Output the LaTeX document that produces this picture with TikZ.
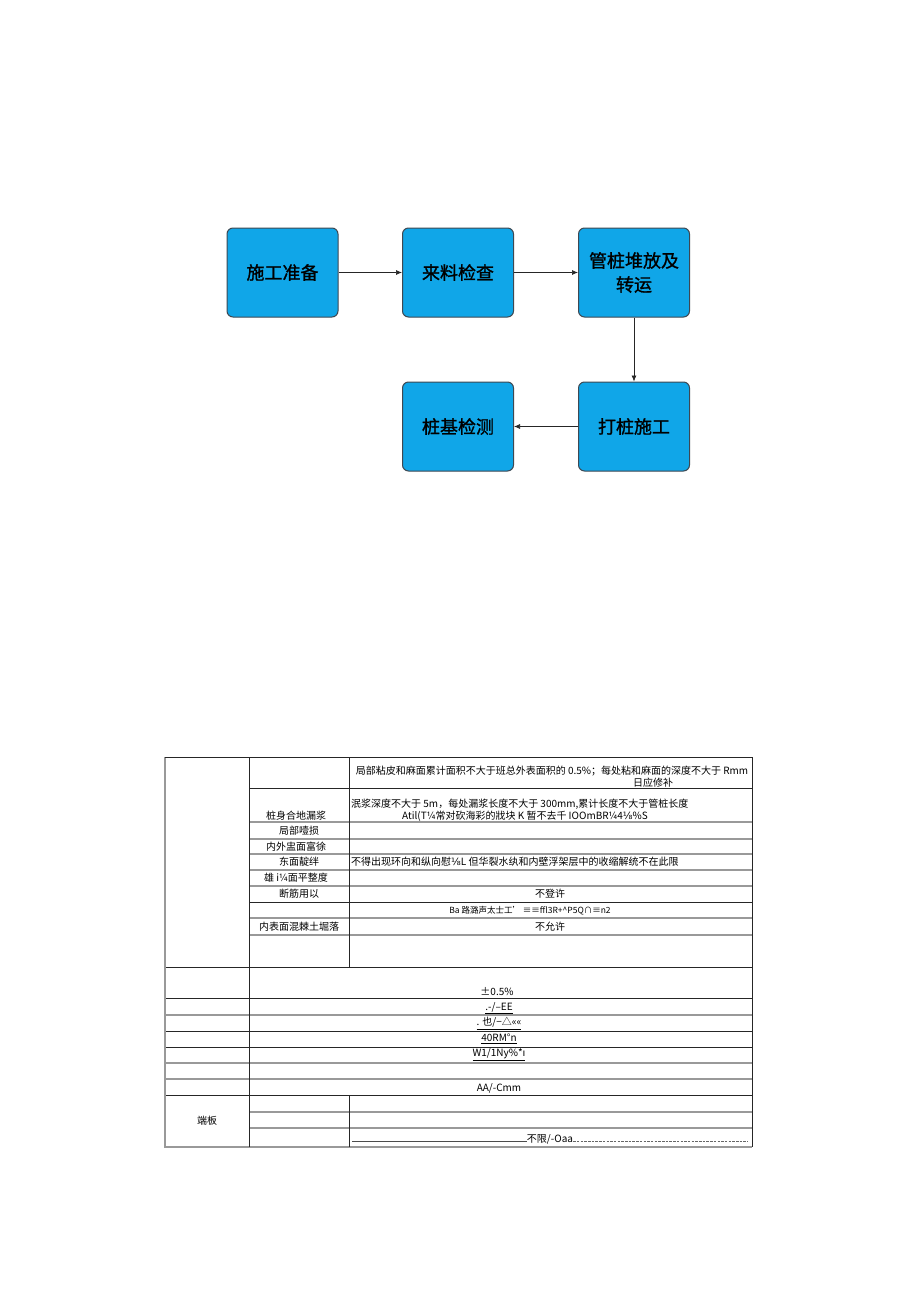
\documentclass[tikz,border=0pt]{standalone}
\usepackage{fontspec}
\setmainfont{Noto Sans CJK SC}
\newfontfamily\symfont{DejaVu Sans}
\newfontfamily\boxfont[FakeBold=1.2]{Noto Sans CJK SC}
\usetikzlibrary{arrows.meta, positioning}
\definecolor{flowblue}{RGB}{16,166,232}
\definecolor{flowedge}{RGB}{62,72,82}

\begin{document}
\begin{tikzpicture}[x=1pt,y=-1pt,
    flowbox/.style={draw=flowedge, line width=1pt, fill=flowblue, rounded corners=6pt,
        minimum width=111pt, minimum height=89pt, align=center, inner sep=2pt,
        font=\boxfont\fontsize{18}{24}\selectfont},
    flowline/.style={-{Latex[length=6pt,width=5pt]}, line width=0.7pt, black!85},
    darkrule/.style={black!85, line width=0.7pt},
    greyrule/.style={black!40, line width=1.1pt},
    cell/.style={inner sep=0pt, font=\fontsize{10}{12}\selectfont},
    smallcell/.style={inner sep=0pt, font=\fontsize{8.5}{10}\selectfont}]

    % Page
    \fill[white] (0,0) rectangle (920,1301);

    % Flow chart
    \node[flowbox] (prep)  at (282.5,272.5) {施工准备};
    \node[flowbox] (check) at (458,272.5)   {来料检查};
    \node[flowbox] (stack) at (634,272.5)   {管桩堆放及\\转运};
    \node[flowbox] (drive) at (634,426.5)   {打桩施工};
    \node[flowbox] (test)  at (458,426.5)   {桩基检测};

    \draw[flowline] (prep.east) -- (check.west);
    \draw[flowline] (check.east) -- (stack.west);
    \draw[flowline] (stack.south) -- (drive.north);
    \draw[flowline] (drive.west) -- (test.east);

    % Table rules
    \foreach \y in {822,839,854,870,886,918,935,1112,1128}
        \draw[greyrule] (249,\y) -- (752,\y);
    \foreach \y in {788,902}
        \draw[darkrule] (249,\y) -- (752,\y);
    \foreach \y in {1015,1063,1079}
        \draw[greyrule] (165,\y) -- (752,\y);
    \foreach \y in {967,998,1031,1047,1095}
        \draw[darkrule] (165,\y) -- (752,\y);
    \draw[greyrule] (165,757) -- (165,1147) -- (752,1147);
    \draw[darkrule] (165,757) -- (752,757) -- (752,1147);
    \draw[darkrule] (249,757) -- (249,1147);
    \draw[darkrule] (349,757) -- (349,967);
    \draw[darkrule] (349,1095) -- (349,1147);

    % Upper block, second column
    \node[cell] (c2) at (296,816) {桩身合地漏浆};
    \node[cell] (c3) at (299,830.5) {局部噎损};
    \node[cell] (c4) at (296,846.5) {内外盅面富徐};
    \node[cell] (c5) at (299,862) {东面靛绊};
    \node[cell] (c6) at (296,878) {雄 i¼面平整度};
    \node[cell] (c7) at (299,894) {断筋用以};
    \node[cell] (c9) at (299,926.5) {内表面混棘土堀落};

    % Upper block, third column
    \node[cell] (d1a) at (552,771) {局部粘皮和麻面累计面积不大于班总外表面积的 0.5\%；每处粘和麻面的深度不大于 Rmm};
    \node[cell] (d1b) at (653,782.5) {日应修补};
    \node[cell, anchor=west] (d2a) at (351,804) {泯浆深度不大于 5m，每处漏浆长度不大于 300mm,累计长度不大于管桩长度};
    \node[cell] (d2b) at (525,816) {Atil(T¼常对砍海彩的戕块 K 暂不去千 IOOmBR¼4{\symfont ⅛}\%S};
    \node[cell, anchor=west] (d5) at (351,862) {不得出现环向和纵向慰{\symfont ⅛}L 但华裂水纨和内壁浮架层中的收缩解统不在此限};
    \node[cell] (d7) at (550,894) {不登许};
    \node[smallcell] (d8) at (530,910.5) {Ba 路潞声太士工' ≡≡ffl3R+\textasciicircum P5Q∩≡n2};
    \node[cell] (d9) at (550,926.5) {不允许};

    % Middle block
    \node[cell] (e1) at (497,992) {±0.5\%};
    \node[cell] (e2) at (499,1008) {\underline{.-/--EE}};
    \node[cell] (e3) at (499,1023.5) {\underline{. 也/−△««}};
    \node[cell] (e4) at (499,1039) {\underline{40RM°n}};
    \node[cell] (e5) at (499,1055) {\underline{W1/1Ny\%*{\symfont ı}}};
    \node[cell] (e7) at (499,1088) {AA/-Cmm};

    % End plate block
    \node[cell] (f0) at (207,1121) {端板};
    \node[cell] (f3) at (550,1139) {不限/-Oaa};
    \coordinate (rulestart) at (352,1141);
    \coordinate (ruleend) at (748,1141);
    \draw[black!70, line width=0.7pt] (rulestart) -- (rulestart -| f3.west);
    \draw[black!60, line width=0.7pt, dash pattern=on 2.5pt off 1.2pt] (ruleend -| f3.east) -- (ruleend);
\end{tikzpicture}
\end{document}
